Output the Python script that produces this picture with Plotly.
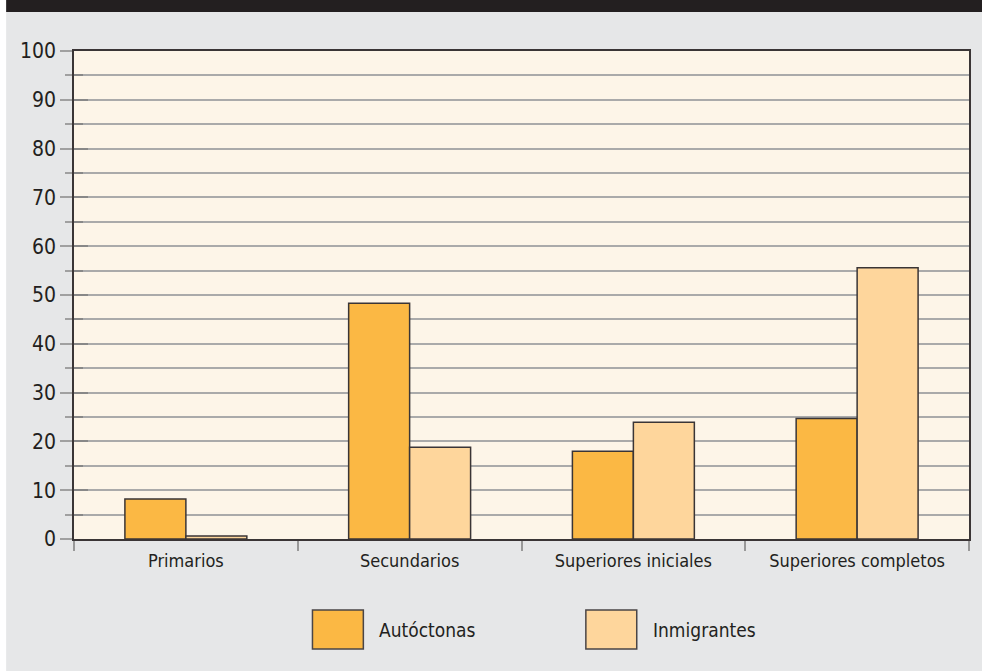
import plotly.graph_objects as go

categories = ["Primarios", "Secundarios", "Superiores iniciales", "Superiores completos"]
autoctonas = [8.2, 48.3, 18.0, 24.7]
inmigrantes = [0.6, 18.8, 23.9, 55.6]
series_names = ["Autóctonas", "Inmigrantes"]

COL_A = "#FBB844"
COL_I = "#FED69C"
EDGE = "#3A3536"
TXT = "#231F20"
FONT = "DejaVu Sans Condensed, DejaVu Sans, sans-serif"

W, H = 982, 671
L, R, T, B = 74, 11, 51, 132
pw, ph = W - L - R, H - T - B

def px(x):
    return (x - L) / pw

def py(y):
    return (H - B - y) / ph

fig = go.Figure()
fig.add_bar(x=categories, y=autoctonas, name=series_names[0], marker=dict(color=COL_A, line=dict(color=EDGE, width=1.5)), showlegend=False)
fig.add_bar(x=categories, y=inmigrantes, name=series_names[1], marker=dict(color=COL_I, line=dict(color=EDGE, width=1.5)), showlegend=False)

shapes = [
    dict(type="rect", xref="paper", yref="paper", x0=px(6), x1=px(W + 5), y0=py(-5), y1=py(12),
         fillcolor="#231F20", line=dict(width=0), layer="above"),
    dict(type="rect", xref="paper", yref="paper", x0=px(-5), x1=px(6), y0=py(-5), y1=py(H + 5),
         fillcolor="#FFFFFF", line=dict(width=0), layer="below"),
]
annotations = []
legend_items = [(313, series_names[0], COL_A), (587, series_names[1], COL_I)]
for x0, name, col in legend_items:
    shapes.append(dict(type="rect", xref="paper", yref="paper", x0=px(x0), x1=px(x0 + 51), y0=py(649), y1=py(610),
                       fillcolor=col, line=dict(color="#4A4546", width=1.5)))
    annotations.append(dict(text=name, xref="paper", yref="paper", x=px(x0 + 65), y=py(630), xanchor="left", yanchor="middle",
                            align="left", showarrow=False, font=dict(family=FONT, size=19, color=TXT)))

fig.update_layout(
    width=W, height=H,
    margin=dict(l=L, r=R, t=T, b=B, pad=0),
    paper_bgcolor="#E6E7E8",
    plot_bgcolor="#FDF5E8",
    barmode="group", bargap=0.455, bargroupgap=0,
    font=dict(family=FONT, size=19, color=TXT),
    shapes=shapes, annotations=annotations,
    xaxis=dict(showgrid=False, tickson="boundaries", ticks="outside", ticklen=10, tickcolor="#999999", tickwidth=1.5,
               showline=True, linecolor="#3A3536", linewidth=1.5, mirror=True, ticklabelstandoff=5,
               tickfont=dict(size=18, color=TXT)),
    yaxis=dict(range=[0, 100], dtick=10, ticks="outside", ticklen=12, tickcolor="#A0A0A0", tickwidth=1.5,
               showgrid=True, gridcolor="#AAAAAA", gridwidth=1.5, zeroline=False,
               minor=dict(dtick=5, ticklen=7, tickcolor="#A0A0A0", tickwidth=1.5, showgrid=True, gridcolor="#AAAAAA", gridwidth=1.5, ticks="outside"),
               showline=True, linecolor="#3A3536", linewidth=1.5, mirror=True,
               ticklabelstandoff=0, tickfont=dict(size=21, color=TXT)),
    yaxis2=dict(range=[0, 100], overlaying="y", side="left", dtick=10, ticks="inside", ticklen=14, tickcolor="#888888", tickwidth=1.5,
                showticklabels=False, showgrid=False, zeroline=False,
                minor=dict(dtick=5, ticklen=9, tickcolor="#888888", tickwidth=1.5, ticks="inside")),
)
fig.add_scatter(x=categories, y=[None] * len(categories), yaxis="y2", showlegend=False, hoverinfo="skip")

post = (
    "document.documentElement.style.margin='0';"
    "document.body.style.margin='0';"
    "document.body.style.background='#E6E7E8';"
    "var s=document.createElement('style');"
    "s.textContent='.main-svg text{font-stretch:condensed !important;}';"
    "document.head.appendChild(s);"
)
fig.write_html("out.html", post_script=post, config={"displayModeBar": False})
